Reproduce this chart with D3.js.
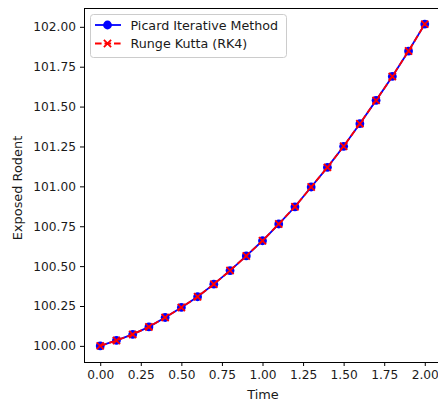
<!DOCTYPE html>
<html>
<head>
<meta charset="utf-8">
<title>Picard vs RK4</title>
<script src="https://d3js.org/d3.v7.min.js"></script>
<style>
  body { margin: 0; background: #fff; }
  text { font-family: "DejaVu Sans", sans-serif; fill: #1a1a1a; }
</style>
</head>
<body>
<div id="container"></div>
<script>
// ---- data ----
const times = [0.0, 0.1, 0.2, 0.3, 0.4, 0.5, 0.6, 0.7, 0.8, 0.9, 1.0,
               1.1, 1.2, 1.3, 1.4, 1.5, 1.6, 1.7, 1.8, 1.9, 2.0];
const picard = [100.000, 100.034, 100.072, 100.119, 100.178, 100.241, 100.308,
                100.387, 100.472, 100.564, 100.659, 100.764, 100.872, 100.996,
                101.119, 101.251, 101.393, 101.539, 101.689, 101.848, 102.017];
const rk4 = [100.000, 100.034, 100.072, 100.119, 100.178, 100.241, 100.308,
             100.387, 100.472, 100.564, 100.659, 100.764, 100.872, 100.996,
             101.119, 101.251, 101.393, 101.539, 101.689, 101.848, 102.017];
const xTicks = [0, 0.25, 0.5, 0.75, 1.0, 1.25, 1.5, 1.75, 2.0];
const yTicks = [100.0, 100.25, 100.5, 100.75, 101.0, 101.25, 101.5, 101.75, 102.0];
const seriesNames = ["Picard Iterative Method", "Runge Kutta (RK4)"];

// ---- layout ----
const width = 438, height = 402;
const padL = 84, padT = 8, padR = 441, padB = 362;

const svg = d3.select("#container").append("svg")
    .attr("width", width)
    .attr("height", height);

const x = d3.scaleLinear().domain([-0.1, 2.1]).range([padL, padR]);
const y = d3.scaleLinear().domain([99.899, 102.118]).range([padB, padT]);

// axes
const xAxis = d3.axisBottom(x).tickValues(xTicks).tickFormat(d3.format(".2f"))
    .tickSizeOuter(0).tickSize(4).tickPadding(4);
const yAxis = d3.axisLeft(y).tickValues(yTicks).tickFormat(d3.format(".2f"))
    .tickSizeOuter(0).tickSize(4).tickPadding(4);

const gx = svg.append("g").attr("transform", `translate(0,${padB})`).call(xAxis);
const gy = svg.append("g").attr("transform", `translate(${padL},0)`).call(yAxis);
[gx, gy].forEach(g => {
  g.select(".domain").remove();
  g.selectAll(".tick line").attr("stroke", "#000").attr("stroke-width", 1);
  g.selectAll(".tick text").style("font-size", "12.2px")
    .style("font-family", "DejaVu Sans").attr("fill", "#1a1a1a");
});

// spines
svg.append("rect")
    .attr("x", padL + 0.5).attr("y", padT + 0.5)
    .attr("width", padR - padL).attr("height", padB - padT)
    .attr("fill", "none").attr("stroke", "#000").attr("stroke-width", 1);

// axis labels
svg.append("text")
    .attr("x", 263).attr("y", 399)
    .attr("text-anchor", "middle").style("font-size", "12.9px")
    .text("Time");
svg.append("text")
    .attr("transform", "translate(21.5,188) rotate(-90)")
    .attr("text-anchor", "middle").style("font-size", "12.9px")
    .text("Exposed Rodent");

// ---- lines ----
const plot = svg.append("g");
const line = d3.line().x((d, i) => x(times[i])).y(d => y(d));

plot.append("path").datum(picard)
    .attr("d", line).attr("fill", "none")
    .attr("stroke", "#0000ff").attr("stroke-width", 1.8);
plot.selectAll("circle.pic").data(picard).enter().append("circle")
    .attr("class", "pic")
    .attr("cx", (d, i) => x(times[i])).attr("cy", d => y(d))
    .attr("r", 4.4).attr("fill", "#0000ff");

plot.append("path").datum(rk4)
    .attr("d", line).attr("fill", "none")
    .attr("stroke", "#ff0000").attr("stroke-width", 1.8)
    .attr("stroke-dasharray", "6.6,2.9");

const cross = (sel, s) => {
  sel.append("path")
    .attr("d", `M${-s},${-s}L${s},${s}M${-s},${s}L${s},${-s}`)
    .attr("stroke", "#ff0000").attr("stroke-width", 1.8).attr("fill", "none");
};
plot.selectAll("g.rk").data(rk4).enter().append("g")
    .attr("class", "rk")
    .attr("transform", (d, i) => `translate(${x(times[i])},${y(d)})`)
    .call(cross, 3.6);

// ---- legend ----
const lg = svg.append("g").attr("transform", "translate(90,14)");
lg.append("rect")
    .attr("x", 0.5).attr("y", 0.5).attr("width", 196).attr("height", 43)
    .attr("rx", 3).attr("fill", "#fff").attr("fill-opacity", 0.8)
    .attr("stroke", "#cccccc").attr("stroke-width", 1);

const rowY = [11, 29.5];
lg.append("line").attr("x1", 5).attr("x2", 31).attr("y1", rowY[0]).attr("y2", rowY[0])
    .attr("stroke", "#0000ff").attr("stroke-width", 1.8);
lg.append("circle").attr("cx", 17.5).attr("cy", rowY[0]).attr("r", 4.4).attr("fill", "#0000ff");
lg.append("line").attr("x1", 5).attr("x2", 31).attr("y1", rowY[1]).attr("y2", rowY[1])
    .attr("stroke", "#ff0000").attr("stroke-width", 1.8).attr("stroke-dasharray", "6.6,2.9");
lg.append("g").attr("transform", `translate(17.5,${rowY[1]})`).call(cross, 3.6);

lg.selectAll("text.lab").data(seriesNames).enter().append("text")
    .attr("class", "lab")
    .attr("x", 40.5).attr("y", (d, i) => rowY[i] + 4.6)
    .style("font-size", "12.7px")
    .text(d => d);
</script>
</body>
</html>
